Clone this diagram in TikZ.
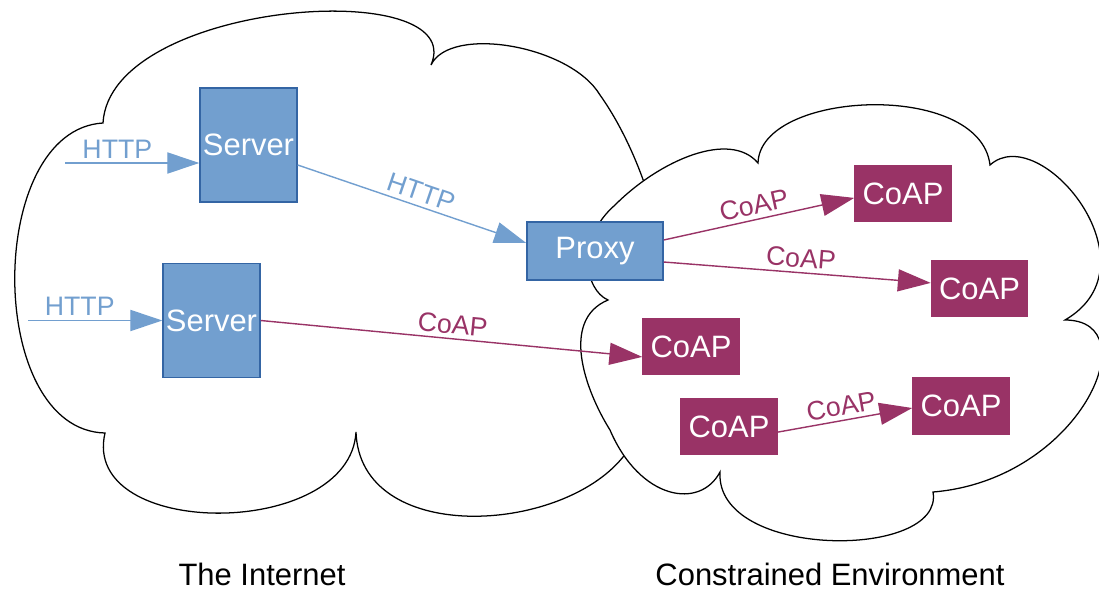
\documentclass[tikz,border=0pt]{standalone}
\usepackage{fontspec}
\setmainfont{Liberation Sans}
\usetikzlibrary{arrows.meta}
\definecolor{srvblue}{HTML}{729FCF}
\definecolor{srvedge}{HTML}{3465A4}
\definecolor{coapred}{HTML}{993366}

\begin{document}
\begin{tikzpicture}[x=0.025cm, y=-0.025cm,
            cloudline/.style={draw=black, line width=0.9pt},
            srv/.style={rectangle, draw=srvedge, fill=srvblue, line width=1pt, minimum width=2.425cm, minimum height=2.85cm, inner sep=0pt, text=white, font=\fontsize{22}{26}\selectfont},
            prx/.style={srv, minimum width=3.4cm, minimum height=1.45cm},
            coap/.style={rectangle, fill=coapred, minimum width=2.425cm, minimum height=1.425cm, inner sep=0pt, text=white, font=\fontsize{22}{26}\selectfont},
            httplink/.style={-{Triangle[length=0.8cm, width=0.53cm]}, srvblue, line width=1pt},
            coaplink/.style={-{Triangle[length=0.82cm, width=0.55cm]}, coapred, line width=1pt},
            lbl/.style={font=\fontsize{19}{22}\selectfont, inner sep=3pt, sloped, above},
            title/.style={font=\fontsize{22}{26}\selectfont, text=black, inner sep=0pt}
        ]
            \useasboundingbox (0,0) rectangle (1099,593);

            % --- Internet cloud ---
            \draw[cloudline] (103,123)
                .. controls (110,0) and (470,-25) .. (431,65)
                .. controls (450,25) and (570,45) .. (600,95)
                .. controls (625,130) and (660,200) .. (670,300)
                .. controls (680,380) and (660,430) .. (623,457)
                .. controls (560,535) and (360,545) .. (356,432)
                .. controls (350,540) and (80,540) .. (105,433)
                .. controls (-15,430) and (-15,130) .. cycle;

            % --- constrained cloud (on top) ---
            \draw[cloudline, fill=white] (608,300)
                .. controls (585,290) and (575,240) .. (615,205)
                .. controls (660,160) and (730,130) .. (758,163)
                .. controls (760,90) and (980,80) .. (990,165)
                .. controls (1040,120) and (1160,265) .. (1065,320)
                .. controls (1150,320) and (1080,480) .. (933,492)
                .. controls (945,560) and (715,560) .. (720,472)
                .. controls (700,510) and (640,500) .. (610,430)
                .. controls (585,390) and (560,320) .. cycle;

            % --- servers and proxy ---
            \node[srv] (srv1) at (248.5,145) {Server};
            \node[srv] (srv2) at (211.5,320.5) {Server};
            \node[prx] (proxy) at (595,251) {Proxy};

            % --- CoAP nodes ---
            \node[coap] (coapA) at (903,193.5) {CoAP};
            \node[coap] (coapB) at (979.5,288.5) {CoAP};
            \node[coap] (coapC) at (691,346.5) {CoAP};
            \node[coap] (coapD) at (729,426.5) {CoAP};
            \node[coap] (coapE) at (961,406) {CoAP};

            % incoming HTTP
            \coordinate (in1) at (65,163);
            \coordinate (in2) at (28,320.5);
            \draw[httplink] (in1) -- (in1 -| srv1.west) node[lbl, pos=0.39] {HTTP};
            \draw[httplink] (in2) -- (srv2.west) node[lbl, pos=0.385] {HTTP};

            % links
            \draw[httplink] ([yshift=-0.5cm]srv1.east) -- ([yshift=0.2cm]proxy.west) node[lbl, pos=0.52] {HTTP};
            \draw[coaplink] (srv2.east) -- ([yshift=-0.26cm]coapC.west) node[lbl, pos=0.5] {CoAP};
            \draw[coaplink] ([yshift=0.275cm]proxy.east) -- ([yshift=-0.11cm]coapA.west) node[lbl, pos=0.49] {CoAP};
            \draw[coaplink] ([yshift=-0.275cm]proxy.east) -- ([yshift=0.14cm]coapB.west) node[lbl, pos=0.51] {CoAP};
            \draw[coaplink] ([yshift=-0.14cm]coapD.east) -- ([yshift=-0.05cm]coapE.west) node[lbl, pos=0.49] {CoAP};

            % titles
            \node[title] (inet) at (262,574) {The Internet};
            \node[title] (cenv) at (830,574) {Constrained Environment};
        \end{tikzpicture}
\end{document}
